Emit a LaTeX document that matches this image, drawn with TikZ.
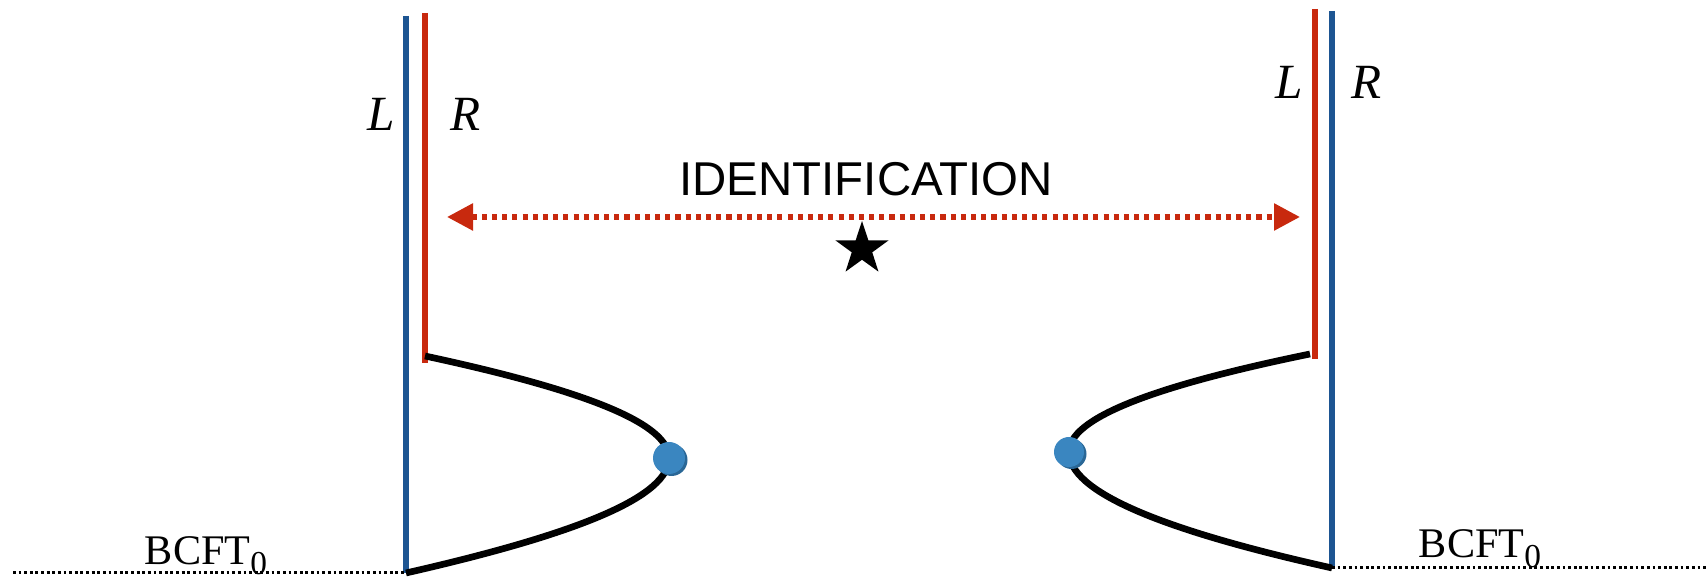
\documentclass[tikz,border=0pt]{standalone}
\usepackage{fontspec}
\setmainfont{Liberation Serif}
\newfontfamily\identfont{Liberation Sans}
\usetikzlibrary{arrows.meta, shapes.geometric, shadows}
\definecolor{braneBlue}{HTML}{1D5592}
\definecolor{braneRed}{HTML}{C8290E}
\definecolor{pointBlue}{HTML}{3A86C0}
\definecolor{pointShade}{HTML}{2A6796}

\begin{document}
\begin{tikzpicture}[line width=1.7pt,
    lab/.style={font=\fontsize{14}{16}\selectfont\itshape},
    bcft/.style={font=\fontsize{12}{14}\selectfont, anchor=base west, inner sep=0pt},
    point/.style={circle, fill=pointBlue, minimum size=0.32cm, inner sep=0pt,
      drop shadow={shadow xshift=0.025cm, shadow yshift=-0.02cm, fill=pointShade, opacity=1}},
    bord/.style={dash pattern=on 0.8pt off 0.8pt, line width=0.85pt}]
    \useasboundingbox (0,0) rectangle (17.08,5.81);

    % bords gauche et droit
    \coordinate (lbTop) at (4.06,5.65);
    \coordinate (lbBot) at (4.06,0.08);
    \coordinate (lrTop) at (4.25,5.68);
    \coordinate (lrBot) at (4.25,2.18);
    \coordinate (rbTop) at (13.32,5.70);
    \coordinate (rbBot) at (13.32,0.13);
    \coordinate (rrTop) at (13.15,5.72);
    \coordinate (rrBot) at (13.15,2.22);
    \draw[braneBlue] (lbTop) -- (lbBot);
    \draw[braneRed]  (lrTop) -- (lrBot);
    \draw[braneBlue] (rbTop) -- (rbBot);
    \draw[braneRed]  (rrTop) -- (rrBot);

    % courbes
    \coordinate (lStart) at (4.25,2.25);
    \coordinate (lTip) at (6.69,1.23);
    \coordinate (rStart) at (13.10,2.27);
    \coordinate (rTip) at (10.69,1.29);
    \draw[line width=1.9pt] (lStart) .. controls (5.88,1.90) and (6.69,1.57) .. (lTip)
          .. controls (6.69,0.85) and (5.82,0.48) .. (lbBot);
    \draw[line width=1.9pt] (rStart) .. controls (11.49,1.94) and (10.69,1.62) .. (rTip)
          .. controls (10.69,0.90) and (11.57,0.52) .. (rbBot);
    \node[point] (lPoint) at (lTip) {};
    \node[point, minimum size=0.3cm] (rPoint) at (rTip) {};

    % lignes pointillees
    \coordinate (lEnd) at (0.13,0.08);
    \coordinate (rEnd) at (17.08,0.13);
    \draw[bord] (lEnd) -- (lbBot);
    \draw[bord] (rbBot) -- (rEnd);
    \node[bcft] (bcftL) at (1.42,0.16) {BCFT\raisebox{-2.8pt}{\fontsize{9.5}{10}\selectfont 0}};
    \node[bcft] (bcftR) at (14.16,0.23) {BCFT\raisebox{-2.8pt}{\fontsize{9.5}{10}\selectfont 0}};

    \node[lab] (lL) at (3.81,4.67) {L};
    \node[lab] (lR) at (4.66,4.67) {R};
    \node[lab] (rL) at (12.89,4.99) {L};
    \node[lab] (rR) at (13.67,4.99) {R};

    % identification
    \coordinate (idL) at (4.47,3.64);
    \coordinate (idR) at (13.00,3.64);
    \draw[braneRed, line width=1.6pt, dash pattern=on 1.45pt off 1.45pt,
      {Triangle[length=0.26cm, width=0.26cm]}-{Triangle[length=0.26cm, width=0.26cm]}] (idL) -- (idR);
    \node[font=\identfont\fontsize{13.5}{16}\selectfont, anchor=base] (ident) at (8.66,3.85) {IDENTIFICATION};
    \node[star, star points=5, star point ratio=2.6, fill=black, minimum size=0.56cm, inner sep=0pt] (mark) at (8.62,3.32) {};
  \end{tikzpicture}
\end{document}
